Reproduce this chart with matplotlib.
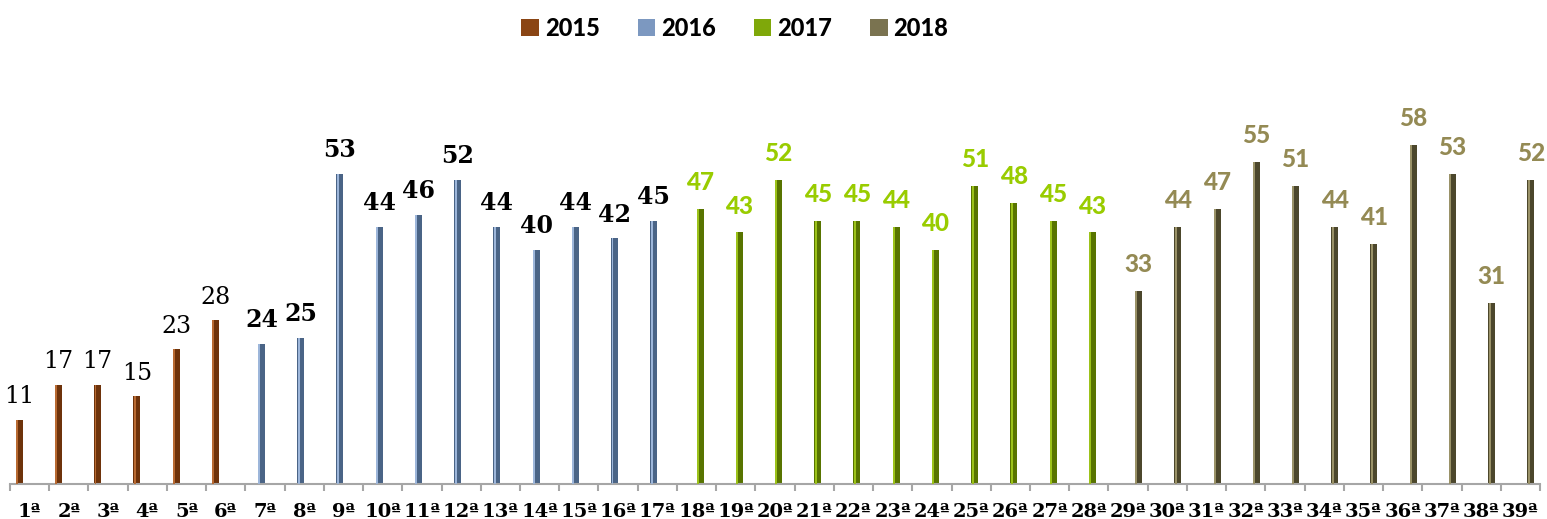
import numpy as np
import matplotlib.pyplot as plt

# rounds 1ª .. 39ª, one season per round
rounds = [f"{i}ª" for i in range(1, 40)]
values = [11, 17, 17, 15, 23, 28,
          24, 25, 53, 44, 46, 52, 44, 40, 44, 42, 45,
          47, 43, 52, 45, 45, 44, 40, 51, 48, 45, 43,
          33, 44, 47, 55, 51, 44, 41, 58, 53, 31, 52]
season = ["2015"] * 6 + ["2016"] * 11 + ["2017"] * 11 + ["2018"] * 11
seasons = ["2015", "2016", "2017", "2018"]

bar_dark = {"2015": "#6E330B", "2016": "#4A6486", "2017": "#587400", "2018": "#4C472C"}
bar_light = {"2015": "#B86A32", "2016": "#9DB6DA", "2017": "#9CC21A", "2018": "#9A9268"}
legend_col = {"2015": "#8A4514", "2016": "#7C98C0", "2017": "#7FA80A", "2018": "#7A7350"}
label_col = {"2015": "black", "2016": "black", "2017": "#99CC00", "2018": "#948A54"}
label_font = {
    "2015": dict(family="DejaVu Serif", weight="normal", size=17),
    "2016": dict(family="DejaVu Serif", weight="bold", size=17),
    "2017": dict(family="Lato", weight="black", size=17.5),
    "2018": dict(family="Lato", weight="black", size=17.5),
}
label_gap = {"2015": 12, "2016": 12, "2017": 13.5, "2018": 13.5}

fig = plt.figure(figsize=(15.47, 5.19), dpi=100)
W, H = 1547, 519
ymax = 66
ax = fig.add_axes([10 / W, (H - 484) / H, 1530 / W, (ymax * 5.85) / H])

x = np.arange(len(rounds))
w = 0.178
handles = []
for j, s in enumerate(seasons):
    idx = [i for i in range(len(values)) if season[i] == s]
    xs = x[idx] + (j - 1.5) * w
    hs = [values[i] for i in idx]
    ax.bar(xs, hs, width=w, color=bar_dark[s], linewidth=0, zorder=2)
    ax.bar(xs - w * 0.3, hs, width=w * 0.28, color=bar_light[s], linewidth=0, zorder=3)
    h = ax.bar([np.nan], [np.nan], color=legend_col[s], label=s)
    handles.append(h)
    for xi, hi in zip(xs, hs):
        ax.annotate(str(hi), (xi, hi), xytext=(0, label_gap[s]), textcoords="offset points",
                    ha="center", va="baseline", color=label_col[s], **label_font[s])

ax.set_xlim(-0.5, len(rounds) - 0.5)
ax.set_ylim(0, ymax)
ax.set_yticks([])
for sp in ["left", "right", "top"]:
    ax.spines[sp].set_visible(False)
ax.spines["bottom"].set_color("#A6A6A6")
ax.spines["bottom"].set_linewidth(1.5)

ax.set_xticks(x)
ax.set_xticklabels(rounds, fontfamily="DejaVu Serif", fontweight="bold", fontsize=14)
ax.tick_params(axis="x", which="major", length=0, pad=14)
ax.set_xticks(np.arange(-0.5, len(rounds)), minor=True)
ax.tick_params(axis="x", which="minor", length=5, width=1.5, color="#A6A6A6")

leg = fig.legend(handles=handles, labels=seasons, loc="center", bbox_to_anchor=(0.475, 1 - 28 / H),
                 ncol=4, frameon=False, handlelength=0.75, handleheight=0.75, handletextpad=0.25,
                 columnspacing=1.6, prop=dict(family="Lato", weight="black", size=17))

fig.savefig("out.png", dpi=100)
